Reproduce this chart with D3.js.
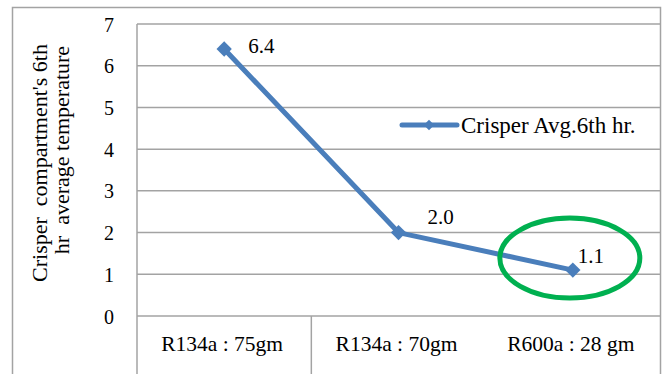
<!DOCTYPE html>
<html>
<head>
<meta charset="utf-8">
<script src="https://cdn.jsdelivr.net/npm/d3@7"></script>
<style>
  html, body { margin: 0; padding: 0; background: #fff; }
  svg { display: block; }
  text { font-family: "Liberation Serif", "DejaVu Serif", serif; fill: #000; }
</style>
</head>
<body>
<svg id="chart" width="666" height="374"></svg>
<script>
// Crisper compartment temperature after 6 hours for each refrigerant charge
const categories = ["R134a : 75gm", "R134a : 70gm", "R600a : 28 gm"];
const values = [6.4, 2.0, 1.1];
const valueLabels = ["6.4", "2.0", "1.1"];
const yTicks = [0, 1, 2, 3, 4, 5, 6, 7];
const seriesName = "Crisper Avg.6th hr.";
const yTitle = ["Crisper  compartment's 6th", "hr  average temperature"];

// label placement relative to each point (dx, dy of baseline start)
const labelOffsets = [[24, 4], [29, -9], [5, -7]];

const svg = d3.select("#chart");
const W = 666, H = 374;
const plot = { left: 137, right: 660, top: 24, bottom: 316 };
const lineColor = "#4a7ebb";
const gridColor = "#a3a3a3";

// outer frame
svg.append("path")
  .attr("d", `M12.5,${H} V7.5 H660.5 V${H}`)
  .attr("fill", "none").attr("stroke", gridColor).attr("stroke-width", 1.5);

const x = d3.scaleBand().domain(categories).range([plot.left, plot.right]);
const y = d3.scaleLinear().domain([0, 7]).range([plot.bottom, plot.top]);

// horizontal gridlines
svg.append("g").selectAll("line").data(yTicks).join("line")
  .attr("x1", plot.left).attr("x2", plot.right)
  .attr("y1", d => y(d)).attr("y2", d => y(d))
  .attr("stroke", gridColor).attr("stroke-width", 1.5);

// left edge of plot, continues through category row
svg.append("line")
  .attr("x1", plot.left).attr("x2", plot.left)
  .attr("y1", plot.top).attr("y2", H)
  .attr("stroke", gridColor).attr("stroke-width", 1.5);

// category separator in the label row
svg.append("line")
  .attr("x1", x(categories[1])).attr("x2", x(categories[1]))
  .attr("y1", plot.bottom).attr("y2", H)
  .attr("stroke", gridColor).attr("stroke-width", 1.5);

// y tick labels
svg.append("g").selectAll("text").data(yTicks).join("text")
  .attr("x", 109).attr("y", d => y(d) + 7.5)
  .attr("text-anchor", "middle")
  .attr("font-size", 20).text(d => d);

// category labels
svg.append("g").selectAll("text").data(categories).join("text")
  .attr("x", d => x(d) + x.bandwidth() / 2 - 2).attr("y", 351)
  .attr("text-anchor", "middle")
  .attr("font-size", 21.5).text(d => d);

// y-axis title, two rotated lines
const titlePos = [[47, 163], [69, 150]];
svg.append("g").selectAll("text").data(yTitle).join("text")
  .attr("transform", (d, i) => `translate(${titlePos[i][0]},${titlePos[i][1]}) rotate(-90)`)
  .attr("text-anchor", "middle").attr("font-size", 22)
  .style("white-space", "pre")
  .text(d => d);

// series line
const pts = categories.map((c, i) => [x(c) + x.bandwidth() / 2, y(values[i])]);
svg.append("path")
  .attr("d", d3.line()(pts))
  .attr("fill", "none").attr("stroke", lineColor)
  .attr("stroke-width", 5).attr("stroke-linejoin", "round").attr("stroke-linecap", "round");

// diamond markers
const diamond = d3.symbol().type(d3.symbolDiamond2).size(150);
svg.append("g").selectAll("path").data(pts).join("path")
  .attr("transform", d => `translate(${d[0]},${d[1]})`)
  .attr("d", diamond).attr("fill", lineColor);

// value labels
svg.append("g").selectAll("text").data(pts).join("text")
  .attr("x", (d, i) => d[0] + labelOffsets[i][0])
  .attr("y", (d, i) => d[1] + labelOffsets[i][1])
  .attr("text-anchor", "start")
  .attr("font-size", 21)
  .text((d, i) => valueLabels[i]);

// legend
const lg = svg.append("g").attr("transform", "translate(402,125)");
lg.append("line").attr("x1", 0).attr("x2", 55).attr("y1", 0).attr("y2", 0)
  .attr("stroke", lineColor).attr("stroke-width", 5).attr("stroke-linecap", "round");
lg.append("path").attr("transform", "translate(27,0)")
  .attr("d", d3.symbol().type(d3.symbolDiamond2).size(70)).attr("fill", lineColor);
lg.append("text").attr("x", 59).attr("y", 8)
  .attr("font-size", 23).text(seriesName);

// highlight ring around the lowest value
const last = pts[pts.length - 1];
svg.append("ellipse")
  .attr("cx", last[0] - 3).attr("cy", last[1] - 12)
  .attr("rx", 70).attr("ry", 40)
  .attr("fill", "none").attr("stroke", "#00b050").attr("stroke-width", 5);
</script>
</body>
</html>
